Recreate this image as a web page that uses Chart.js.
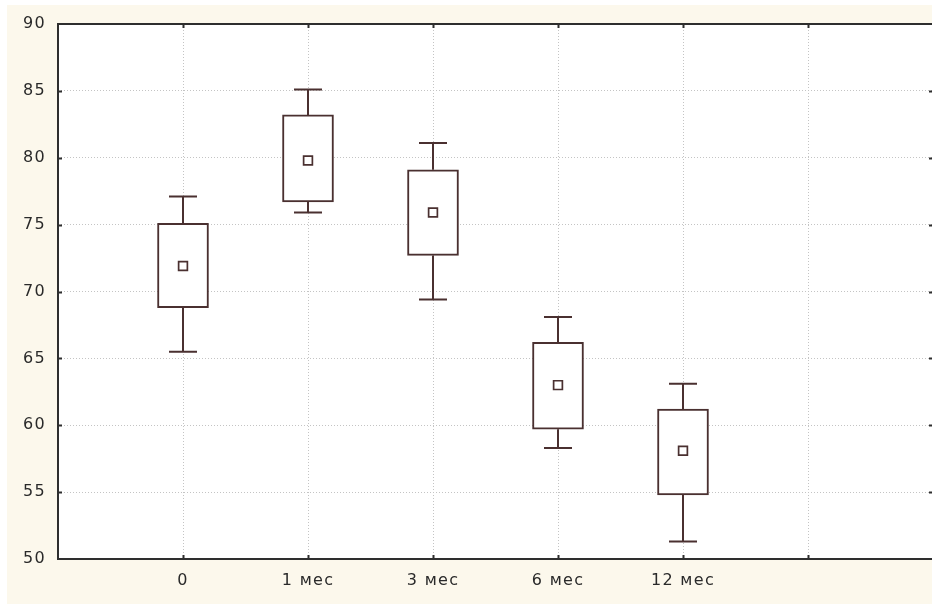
<!DOCTYPE html>
<html>
<head>
<meta charset="utf-8">
<script src="https://cdn.jsdelivr.net/npm/chart.js@4/dist/chart.umd.min.js"></script>
<style>
  html, body { margin: 0; padding: 0; background: #ffffff; overflow: hidden; }
  #wrap { width: 945px; height: 604px; }
</style>
</head>
<body>
<div id="wrap"><canvas id="chart" width="945" height="604"></canvas></div>
<script>
// Follow-up periods shown along the horizontal axis
const categories = ['0', '1 мес', '3 мес', '6 мес', '12 мес'];

// Box-and-whisker summary for each period
const whiskerHigh = [77.1, 85.1, 81.1, 68.1, 63.1];
const boxHigh     = [75.1, 83.2, 79.1, 66.2, 61.2];
const medians     = [71.9, 79.8, 75.9, 63.0, 58.1];
const boxLow      = [68.8, 76.7, 72.7, 59.7, 54.8];
const whiskerLow  = [65.5, 75.9, 69.4, 58.3, 51.3];

// Value axis labels
const yTicks = [50, 55, 60, 65, 70, 75, 80, 85, 90];

const INK = '#4a3030';
const FRAME = '#2e2e2e';
const GRID = '#c4c4c4';
const PAPER = '#fcf8ec';
const LABEL_FONT = { family: 'DejaVu Sans, Verdana, sans-serif', size: 16 };

// category i sits at x = i + 1; slots 0 and 7 are the frame edges
const xSlots = [0, 1, 2, 3, 4, 5, 6, 7];

const backdrop = {
  id: 'backdrop',
  beforeDraw(chart) {
    const { ctx, chartArea: a, width, height } = chart;
    ctx.save();
    ctx.fillStyle = '#ffffff';
    ctx.fillRect(0, 0, width, height);
    ctx.fillStyle = PAPER;
    ctx.fillRect(7, 5, width - 7, height - 5);
    ctx.fillStyle = '#ffffff';
    ctx.fillRect(a.left, a.top, a.right - a.left, a.bottom - a.top);
    ctx.restore();
    ctx.letterSpacing = '1.3px';
  }
};

const whiskers = {
  id: 'whiskers',
  afterDatasetsDraw(chart) {
    const { ctx } = chart;
    const xs = chart.scales.x, ys = chart.scales.y;
    const cap = 14;
    ctx.save();
    ctx.strokeStyle = INK;
    ctx.lineWidth = 2;
    categories.forEach((_, i) => {
      const x = Math.round(xs.getPixelForValue(i + 1));
      const segs = [[boxHigh[i], whiskerHigh[i]], [boxLow[i], whiskerLow[i]]];
      segs.forEach(([from, to]) => {
        const y0 = ys.getPixelForValue(from), y1 = ys.getPixelForValue(to);
        ctx.beginPath();
        ctx.moveTo(x, y0);
        ctx.lineTo(x, y1);
        ctx.moveTo(x - cap, y1);
        ctx.lineTo(x + cap, y1);
        ctx.stroke();
      });
    });
    ctx.restore();
  }
};

const frame = {
  id: 'frame',
  afterDraw(chart) {
    const { ctx, chartArea: a } = chart;
    const xs = chart.scales.x, ys = chart.scales.y;
    const t = 4;
    ctx.save();
    ctx.strokeStyle = FRAME;
    ctx.lineWidth = 2;
    ctx.beginPath();
    xSlots.slice(1, -1).forEach(v => {
      const x = Math.round(xs.getPixelForValue(v)) + 0.5;
      ctx.moveTo(x, a.top); ctx.lineTo(x, a.top + t);
      ctx.moveTo(x, a.bottom); ctx.lineTo(x, a.bottom - t);
    });
    yTicks.slice(1, -1).forEach(v => {
      const y = Math.round(ys.getPixelForValue(v)) + 0.5;
      ctx.moveTo(a.left, y); ctx.lineTo(a.left + t, y);
      ctx.moveTo(a.right, y); ctx.lineTo(a.right - t, y);
    });
    ctx.stroke();
    ctx.strokeRect(a.left, a.top, a.right - a.left, a.bottom - a.top);
    ctx.restore();
  }
};

new Chart(document.getElementById('chart'), {
  type: 'bar',
  data: {
    datasets: [
      {
        type: 'scatter',
        data: medians.map((m, i) => ({ x: i + 1, y: m })),
        pointStyle: 'rect',
        pointRadius: 6.2,
        pointBorderWidth: 1.7,
        pointBorderColor: INK,
        pointBackgroundColor: '#ffffff',
        order: 0
      },
      {
        type: 'bar',
        data: categories.map((_, i) => ({ x: i + 1, y: [boxLow[i], boxHigh[i]] })),
        backgroundColor: '#ffffff',
        borderColor: INK,
        borderWidth: 2,
        borderSkipped: false,
        barThickness: 51,
        order: 1
      }
    ]
  },
  options: {
    responsive: false,
    animation: false,
    layout: { padding: { left: 0, top: 24, right: 0, bottom: 0 } },
    plugins: {
      legend: { display: false },
      tooltip: { enabled: false }
    },
    scales: {
      x: {
        type: 'linear',
        offset: false,
        min: 0,
        max: 7,
        afterBuildTicks(scale) { scale.ticks = xSlots.map(v => ({ value: v })); },
        afterFit(scale) { scale.height = 45; },
        grid: { color: GRID, lineWidth: 1, drawTicks: false, offset: false },
        border: { display: false, dash: [1, 2] },
        ticks: {
          padding: 12,
          maxRotation: 0,
          autoSkip: false,
          color: '#2a2a2a',
          font: LABEL_FONT,
          callback: v => (v >= 1 && v <= categories.length) ? categories[v - 1] : ''
        }
      },
      y: {
        min: 50,
        max: 90,
        afterBuildTicks(scale) { scale.ticks = yTicks.map(v => ({ value: v })); },
        afterFit(scale) { scale.width = 58; },
        grid: { color: GRID, lineWidth: 1, drawTicks: false },
        border: { display: false, dash: [1, 2] },
        ticks: {
          padding: 12,
          color: '#2a2a2a',
          font: LABEL_FONT
        }
      }
    }
  },
  plugins: [backdrop, whiskers, frame]
});
</script>
</body>
</html>
